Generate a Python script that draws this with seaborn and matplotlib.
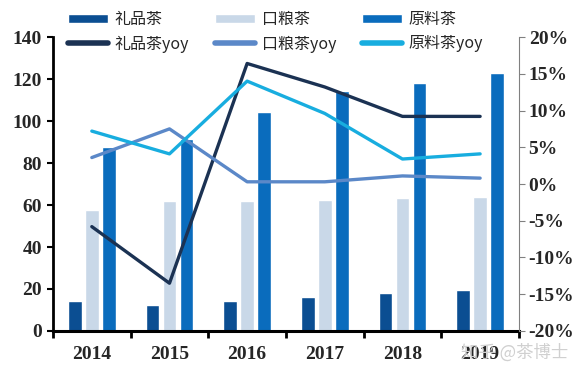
import matplotlib
matplotlib.use('Agg')
import matplotlib.pyplot as plt
import pandas as pd
import seaborn as sns
import numpy as np
from matplotlib.lines import Line2D
from matplotlib.patches import Patch

# data
years = ['2014', '2015', '2016', '2017', '2018', '2019']
gift_tea = [14.3, 12.4, 14.5, 16.3, 17.9, 19.5]      # 礼品茶
ration_tea = [57.6, 61.8, 62.0, 62.4, 63.2, 63.7]    # 口粮茶
raw_tea = [87.6, 91.4, 104.3, 114.3, 118.0, 123.0]   # 原料茶
gift_yoy = [-5.8, -13.5, 16.4, 13.2, 9.2, 9.2]       # %
ration_yoy = [3.6, 7.5, 0.3, 0.3, 1.1, 0.8]
raw_yoy = [7.2, 4.1, 14.0, 9.6, 3.4, 4.1]

bar_names = ['礼品茶', '口粮茶', '原料茶']
line_names = ['礼品茶yoy', '口粮茶yoy', '原料茶yoy']
bar_colors = ['#0b4e92', '#c9d8e8', '#0a6cbd']
line_colors = ['#1b3253', '#5b88c8', '#18addf']

df_bar = pd.DataFrame({'year': years * 3,
                       'kind': np.repeat(bar_names, len(years)),
                       'value': gift_tea + ration_tea + raw_tea})
pos = list(range(len(years)))
df_line = pd.DataFrame({'pos': pos * 3,
                        'kind': np.repeat(line_names, len(years)),
                        'value': gift_yoy + ration_yoy + raw_yoy})

sns.set_style('white')
plt.rcParams['font.family'] = ['Liberation Serif', 'Noto Sans CJK SC']

fig = plt.figure(figsize=(5.81, 3.74), dpi=100)
ax = fig.add_axes([0.0912, 0.115, 0.8020, 0.786])

sns.barplot(data=df_bar, x='year', y='value', hue='kind', hue_order=bar_names,
            palette=bar_colors, width=0.66, gap=0.2, ax=ax, legend=False,
            saturation=1, errorbar=None)

ax2 = ax.twinx()
sns.lineplot(data=df_line, x='pos', y='value', hue='kind', hue_order=line_names,
             palette=line_colors, linewidth=2.4, ax=ax2, legend=False)

ax.set_xlim(-0.5, len(years) - 0.5)
ax.set_ylim(0, 140)
ax.set_yticks(range(0, 141, 20))
ax2.set_ylim(-20, 20)
ax2.set_yticks(range(-20, 21, 5))
ax2.set_yticklabels([f'{v}%' for v in range(-20, 21, 5)])

# category boundaries as ticks, labels at centres
ax.set_xticks(np.arange(-0.5, len(years), 1.0))
ax.set_xticklabels([])
ax.set_xticks(pos, minor=True)
ax.set_xticklabels(years, minor=True)
ax.tick_params(axis='x', which='major', direction='out', length=5, width=2, color='black', bottom=True)
ax.tick_params(axis='x', which='minor', length=0, pad=11, labelsize=14)
ax.tick_params(axis='y', direction='out', length=4, width=1.5, color='black', left=True, labelsize=14, pad=4)
ax2.tick_params(axis='y', direction='out', length=4, width=0.8, color='#808080', right=True, labelsize=14, pad=3)
for lab in ax.get_xticklabels(minor=True) + ax.get_yticklabels() + ax2.get_yticklabels():
    lab.set_fontweight('bold')

ax.set_xlabel('')
ax.set_ylabel('')
ax2.set_xlabel('')
ax2.set_ylabel('')

for a in (ax, ax2):
    for s in a.spines.values():
        s.set_visible(False)
ax.spines['left'].set_visible(True)
ax.spines['left'].set_linewidth(2)
ax.spines['left'].set_color('black')
ax.spines['bottom'].set_visible(True)
ax.spines['bottom'].set_linewidth(2.2)
ax.spines['bottom'].set_color('black')
ax2.spines['right'].set_visible(True)
ax2.spines['right'].set_linewidth(0.8)
ax2.spines['right'].set_color('#808080')
ax.grid(False)
ax2.grid(False)

handles = []
for i in range(3):
    handles.append(Patch(facecolor=bar_colors[i], label=bar_names[i]))
    handles.append(Line2D([0], [0], color=line_colors[i], lw=4, solid_capstyle='round', label=line_names[i]))
fig.legend(handles=handles, ncol=3, loc='upper left', bbox_to_anchor=(0.098, 1.0),
           frameon=False, handlelength=2.5, handleheight=0.5, columnspacing=1.65,
           labelspacing=0.45, handletextpad=0.4, borderaxespad=0.3,
           prop={'family': ['Noto Sans CJK SC'], 'size': 11.5})

fig.text(0.885, 0.058, '知乎 @茶博士', color='#d0d0d0', fontsize=12.5,
         family=['Noto Sans CJK SC'], ha='center', va='center')

fig.savefig('out.png', dpi=100)
